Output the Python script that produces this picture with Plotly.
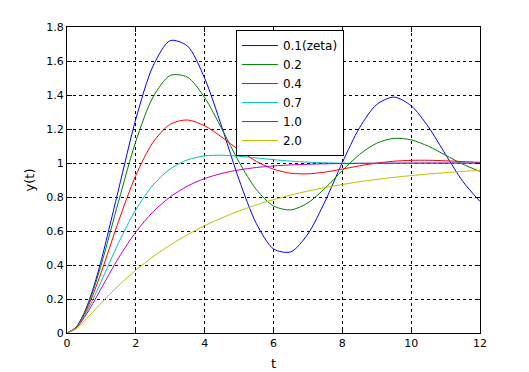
import plotly.graph_objects as go

t = [0, 0.25, 0.5, 0.75, 1, 1.5, 2, 2.5, 3, 3.5, 4, 4.5, 5, 5.5, 6, 6.5, 7, 7.5, 8, 8.5, 9, 9.5, 10, 10.5, 11, 11.5, 12]

y_01 = [0, 0.0306, 0.1184, 0.2555, 0.4310, 0.8464, 1.2581, 1.5705, 1.7202, 1.6879, 1.4984, 1.2108, 0.9014, 0.6444, 0.4946,
        0.4769, 0.5827, 0.7757, 1.0027, 1.2074, 1.3444, 1.3877, 1.3368, 1.2124, 1.0502, 0.8918, 0.7737]
y_02 = [0, 0.0301, 0.1146, 0.2436, 0.4050, 0.7748, 1.1275, 1.3880, 1.5151, 1.5049, 1.3845, 1.2006, 1.0055, 0.8446, 0.7473,
        0.7237, 0.7657, 0.8521, 0.9556, 1.0503, 1.1166, 1.1450, 1.1361, 1.0986, 1.0460, 0.9928, 0.9508]
y_04 = [0, 0.0291, 0.1076, 0.2223, 0.3599, 0.6582, 0.9271, 1.1221, 1.2281, 1.2532, 1.2189, 1.1517, 1.0761, 1.0100, 0.9637,
        0.9400, 0.9362, 0.9466, 0.9643, 0.9833, 0.9995, 1.0104, 1.0157, 1.0160, 1.0130, 1.0084, 1.0036]
y_07 = [0, 0.0278, 0.0983, 0.1954, 0.3059, 0.5313, 0.7257, 0.8706, 0.9653, 1.0185, 1.0416, 1.0458, 1.0398, 1.0298, 1.0196,
        1.0111, 1.0049, 1.0010, 0.9988, 0.9980, 0.9979, 0.9983, 0.9987, 0.9992, 0.9996, 0.9998, 1.0000]
y_10 = [0, 0.0265, 0.0902, 0.1734, 0.2642, 0.4422, 0.5940, 0.7127, 0.8009, 0.8641, 0.9084, 0.9389, 0.9596, 0.9734, 0.9826,
        0.9887, 0.9927, 0.9953, 0.9970, 0.9981, 0.9988, 0.9992, 0.9995, 0.9997, 0.9998, 0.9999, 0.9999]
y_20 = [0, 0.0229, 0.0697, 0.1235, 0.1777, 0.2795, 0.3696, 0.4486, 0.5177, 0.5782, 0.6311, 0.6773, 0.7178, 0.7532, 0.7841,
        0.8112, 0.8349, 0.8556, 0.8737, 0.8895, 0.9034, 0.9155, 0.9261, 0.9353, 0.9434, 0.9505, 0.9567]

names = ["0.1(zeta)", "0.2", "0.4", "0.7", "1.0", "2.0"]
series = [y_01, y_02, y_04, y_07, y_10, y_20]
colors = ["#0000ff", "#008000", "#ff0000", "#00bfbf", "#bf00bf", "#bfbf00"]

x_ticks = [0, 2, 4, 6, 8, 10, 12]
y_ticks = [0, 0.2, 0.4, 0.6, 0.8, 1, 1.2, 1.4, 1.6, 1.8]

fig = go.Figure()
for name, ys, c in zip(names, series, colors):
    fig.add_trace(go.Scatter(x=t, y=ys, mode="lines", name=name,
                             line=dict(color=c, width=1, shape="spline", smoothing=0.8)))

font = "DejaVu Sans, Verdana, sans-serif"
axis_common = dict(showline=True, linecolor="black", linewidth=1, mirror="ticks",
                   ticks="inside", ticklen=5, tickcolor="black", automargin=False,
                   showgrid=True, gridcolor="black", gridwidth=1, griddash="3px,3px",
                   zeroline=False, tickfont=dict(family=font, size=11, color="black"))

# the page body adds an 8px offset; margins compensate so the axes box lands at x 67-480, y 27-333
fig.update_layout(
    width=529, height=372,
    margin=dict(l=59, r=57, t=19, b=47),
    paper_bgcolor="white", plot_bgcolor="white",
    font=dict(family=font, size=11, color="black"),
    xaxis=dict(range=[0, 12], tickvals=x_ticks, title=dict(text="t", standoff=9), **axis_common),
    yaxis=dict(range=[0, 1.8], tickvals=y_ticks, title=dict(text="y(t)", standoff=8), **axis_common),
    legend=dict(x=0.409, y=0.99, xanchor="left", yanchor="top",
                bgcolor="white", bordercolor="black", borderwidth=1, itemwidth=36,
                font=dict(family=font, size=12, color="black"), tracegroupgap=0),
    showlegend=True,
)

fig.write_html("out.html")
